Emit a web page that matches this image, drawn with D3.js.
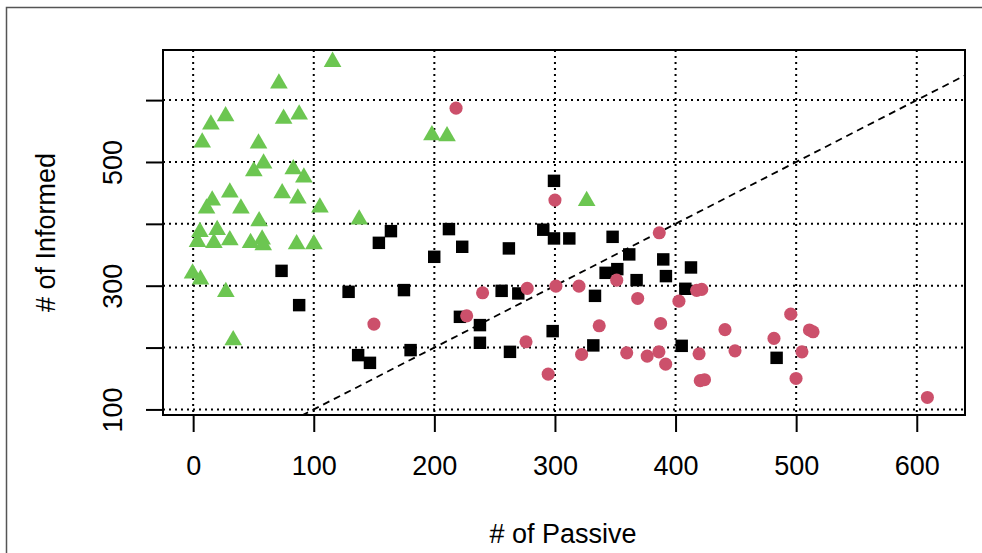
<!DOCTYPE html>
<html>
<head>
<meta charset="utf-8">
<script src="https://cdn.jsdelivr.net/npm/d3@7"></script>
<style>
  html, body { margin: 0; padding: 0; background: #fff; }
  svg text { font-family: "Liberation Sans", Arial, Helvetica, sans-serif; fill: #000; }
</style>
</head>
<body>
<div id="chart"></div>
<script>
// Passive vs Informed counts, three groups
const greenPassive = [115.6, 71.1, 26.9, 14.7, 75, 87.9, 7.5, 54.2, 58.4, 50.3, 83, 91.8, 30.4, 15.8, 11.1, 39.6,
  73.8, 86.8, 105.1, 54.7, 198, 210.5, 137.7, 326.3, 5.6, 19.9, 3.6, 17.2, 30.4, 47.6, 57.2, 58.1, 85.8, 100.1,
  -0.5, 6.1, 27.1, 33.2];
const greenInformed = [661.9, 627, 574, 560.7, 570, 577, 531.6, 530, 497.7, 485, 488.5, 475, 450.8, 437.9, 425, 425,
  449.7, 441, 426.5, 404.4, 543.4, 541.6, 407, 437.2, 387, 390, 371, 369.3, 373.7, 369.3, 374.8, 365.6, 367.2, 367.2,
  319.9, 310.2, 290.1, 212];

const blackPassive = [73.3, 87.9, 128.9, 164, 154, 174.8, 136.8, 146.6, 180.3, 212.1, 223.1, 199.9, 261.8, 290.3,
  299.2, 255.8, 269.6, 221.2, 237.8, 237.8, 262.7, 299.2, 311.9, 347.8, 361.6, 342, 351.7, 367.7, 389.8, 392,
  412.8, 408.1, 333.2, 298.1, 331.8, 405.1, 483.8];
const blackInformed = [324, 268.6, 290.1, 388.2, 369.3, 292.9, 187.8, 175.3, 195.9, 391.5, 362.9, 346.7, 360.3, 390.5,
  469.5, 291.7, 287.5, 249.7, 236.3, 207.7, 193.1, 376.4, 376.4, 379, 350.6, 320.8, 326.8, 309, 342.5, 315.5,
  329.5, 295, 283.6, 226.6, 203.5, 202.8, 183.4];

const pinkPassive = [149.9, 240, 226.8, 277, 276, 294.4, 300, 386.5, 351.2, 300.8, 319.9, 368.6, 402.8, 417.5, 421.7,
  336.7, 387.6, 322.1, 359.5, 376.5, 386.2, 391.8, 419.5, 420.5, 424, 441, 495.5, 511, 514, 481.6, 449.3, 504.8,
  499.9, 608.8, 218];
const pinkInformed = [237.9, 288.5, 251.3, 295.6, 209.3, 157, 438.4, 385.5, 309, 299.3, 299.3, 279.4, 275, 292.5, 294,
  235.2, 239, 188.9, 191.5, 186.2, 193.1, 173.2, 189.9, 146.5, 148, 229, 254, 228.5, 225.5, 214.8, 194.7, 193.1,
  150.1, 119.4, 587];

const xTicks = [0, 100, 200, 300, 400, 500, 600];
const yTicks = [100, 200, 300, 400, 500, 600];
const yLabelled = [100, 300, 500];

const width = 982, height = 553;
const margin = { top: 50, right: 17, bottom: 138, left: 163 };
const w = width - margin.left - margin.right;
const h = height - margin.top - margin.bottom;

const svg = d3.select('#chart').append('svg')
  .attr('width', width)
  .attr('height', height);

svg.append('rect').attr('width', width).attr('height', height).attr('fill', '#fff');

// outer frame of the figure
svg.append('rect')
  .attr('x', 6.5).attr('y', 7.5)
  .attr('width', width + 20).attr('height', height + 20)
  .attr('fill', 'none')
  .attr('stroke', '#555')
  .attr('stroke-width', 1.5);

const g = svg.append('g')
  .attr('transform', `translate(${margin.left},${margin.top})`);

const xScale = d3.scaleLinear().domain([-25, 640]).range([0, w]);
const yScale = d3.scaleLinear().domain([91, 681]).range([h, 0]);

g.append('clipPath').attr('id', 'plot-clip')
  .append('rect').attr('width', w).attr('height', h);

// Grid
g.selectAll('.grid-v')
  .data(xTicks)
  .join('line')
  .attr('x1', d => xScale(d)).attr('x2', d => xScale(d))
  .attr('y1', 0).attr('y2', h)
  .attr('stroke', '#000')
  .attr('stroke-width', 2)
  .attr('stroke-dasharray', '2,4');

g.selectAll('.grid-h')
  .data(yTicks)
  .join('line')
  .attr('x1', 0).attr('x2', w)
  .attr('y1', d => yScale(d)).attr('y2', d => yScale(d))
  .attr('stroke', '#000')
  .attr('stroke-width', 2)
  .attr('stroke-dasharray', '2,4');

// y = x reference line
const lineDomain = [xScale.domain()[0], xScale.domain()[1]];
g.append('line')
  .attr('clip-path', 'url(#plot-clip)')
  .attr('x1', xScale(lineDomain[0])).attr('y1', yScale(lineDomain[0]))
  .attr('x2', xScale(lineDomain[1])).attr('y2', yScale(lineDomain[1]))
  .attr('stroke', '#000')
  .attr('stroke-width', 1.8)
  .attr('stroke-dasharray', '7,5');

// Points
function drawGroup(xs, ys, type, size, color) {
  const pts = xs.map((x, i) => ({ x, y: ys[i] }));
  g.append('g').selectAll('path')
    .data(pts)
    .join('path')
    .attr('transform', d => `translate(${xScale(d.x)},${yScale(d.y)})`)
    .attr('d', d3.symbol().type(type).size(size))
    .attr('fill', color);
}

drawGroup(greenPassive, greenInformed, d3.symbolTriangle, 135, '#6CC651');
drawGroup(blackPassive, blackInformed, d3.symbolSquare, 155, '#000');
drawGroup(pinkPassive, pinkInformed, d3.symbolCircle, 135, '#CC506B');

// Box
g.append('rect')
  .attr('width', w).attr('height', h)
  .attr('fill', 'none')
  .attr('stroke', '#000')
  .attr('stroke-width', 2);

// Axes
const xAxis = g.append('g')
  .attr('transform', `translate(0,${h})`)
  .call(d3.axisBottom(xScale).tickValues(xTicks).tickSize(17).tickSizeOuter(0).tickPadding(24));
xAxis.select('.domain').remove();
xAxis.selectAll('line').attr('stroke-width', 2);
xAxis.selectAll('text').style('font-size', '27px').attr('dy', '0.71em');

const yAxis = g.append('g')
  .call(d3.axisLeft(yScale).tickValues(yTicks).tickSize(17).tickSizeOuter(0)
    .tickFormat(d => yLabelled.includes(d) ? d3.format('d')(d) : ''));
yAxis.select('.domain').remove();
yAxis.selectAll('line').attr('stroke-width', 2);
yAxis.selectAll('text')
  .style('font-size', '27px')
  .attr('x', null).attr('dy', null)
  .attr('text-anchor', 'middle')
  .attr('transform', 'translate(-51,0) rotate(-90)')
  .attr('dy', '0.36em');

// Axis titles
g.append('text')
  .attr('x', xScale(300) + 8)
  .attr('y', h + 118)
  .attr('text-anchor', 'middle')
  .attr('dy', '0.36em')
  .style('font-size', '27px')
  .text('# of Passive');

g.append('text')
  .attr('transform', 'rotate(-90)')
  .attr('x', -h / 2)
  .attr('y', -118)
  .attr('text-anchor', 'middle')
  .attr('dy', '0.36em')
  .style('font-size', '27px')
  .text('# of Informed');
</script>
</body>
</html>
